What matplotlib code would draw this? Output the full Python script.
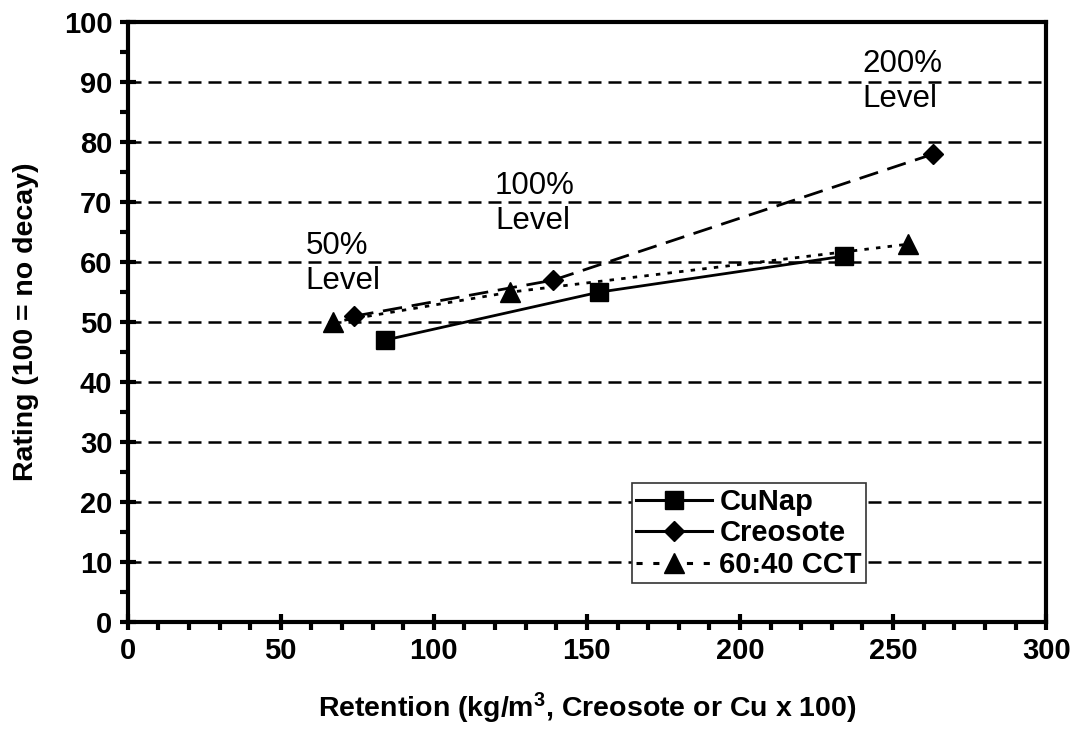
import numpy as np
import matplotlib
matplotlib.use('Agg')
import matplotlib.pyplot as plt
from matplotlib.lines import Line2D
from matplotlib.ticker import MultipleLocator

plt.rcParams['font.family'] = ['Liberation Sans', 'DejaVu Sans']
plt.rcParams['mathtext.fontset'] = 'custom'
plt.rcParams['mathtext.rm'] = 'Liberation Sans:bold'
plt.rcParams['mathtext.default'] = 'rm'

# data
cunap_x = [84, 154, 234]
cunap_y = [47, 55, 61]
creo_x = [74, 139, 263]
creo_y = [51, 57, 78]
cct_x = [67, 125, 255]
cct_y = [50, 55, 63]

series_names = ['CuNap', 'Creosote', '60:40 CCT']
level_text = ['50%\nLevel', '100%\nLevel', '200%\nLevel']
level_x = [58, 120, 240]
level_y = [65.2, 75.2, 95.5]

fig = plt.figure(figsize=(10.73, 7.38), dpi=100)
ax = fig.add_axes([0.119, 0.157, 0.856, 0.813])

# dashed horizontal grid
for g in range(10, 101, 10):
    ax.axhline(g, color='black', lw=1.8, dashes=(5.2, 2.8), zorder=1)

ax.plot(cunap_x, cunap_y, color='black', lw=2, marker='s', ms=13, zorder=3)
ax.plot(creo_x, creo_y, color='black', lw=2, marker='D', ms=10, dashes=(7, 3.5), zorder=3)
ax.plot(cct_x, cct_y, color='black', lw=2, marker='^', ms=14, dashes=(1.6, 2.6), zorder=3)

for t, x, y in zip(level_text, level_x, level_y):
    ax.text(x, y, t, fontsize=22.5, va='top', ha='left', linespacing=1.2)

ax.set_xlim(0, 300)
ax.set_ylim(0, 100)
ax.xaxis.set_major_locator(MultipleLocator(50))
ax.xaxis.set_minor_locator(MultipleLocator(10))
ax.yaxis.set_major_locator(MultipleLocator(10))
ax.yaxis.set_minor_locator(MultipleLocator(5))
ax.tick_params(which='major', direction='inout', length=12, width=3, labelsize=21, pad=5)
ax.tick_params(which='minor', direction='out', length=6, width=3)
for lab in ax.get_xticklabels() + ax.get_yticklabels():
    lab.set_fontweight('bold')
for s in ax.spines.values():
    s.set_linewidth(3)

ax.set_xlabel('Retention (kg/m$^3$, Creosote or Cu x 100)', fontsize=20.5, fontweight='bold', labelpad=18)
ax.set_ylabel('Rating (100 = no decay)', fontsize=20.5, fontweight='bold', labelpad=18)

handles = [
    Line2D([], [], color='black', lw=2.2, marker='s', ms=13),
    Line2D([], [], color='black', lw=2.2, marker='D', ms=10),
    Line2D([], [], color='black', lw=2.2, marker='^', ms=14, dashes=(2, 3.5)),
]
leg = ax.legend(handles, series_names, loc='lower left', bbox_to_anchor=(0.549, 0.065),
                borderaxespad=0, fancybox=False, edgecolor='#333333', framealpha=1,
                prop={'weight': 'bold', 'size': 21}, handlelength=2.6, handletextpad=0.25,
                labelspacing=0.12, borderpad=0.15)
leg.get_frame().set_linewidth(1.2)
leg.set_zorder(5)

fig.savefig('out.png', dpi=100)
